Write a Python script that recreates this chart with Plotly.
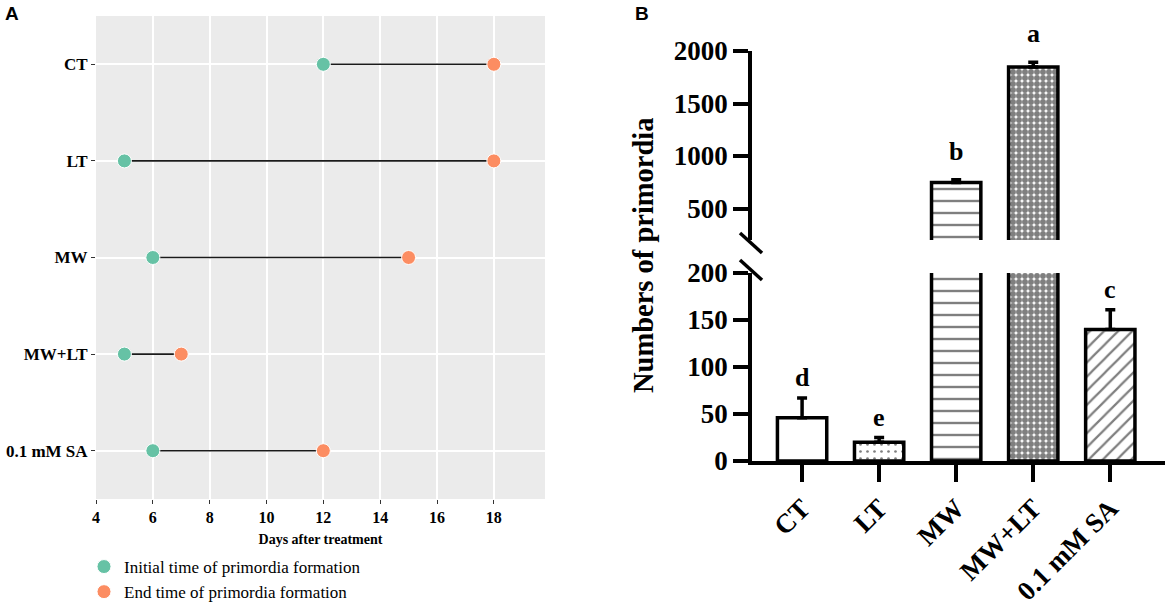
import plotly.graph_objects as go

W, H = 1170, 606
def px(x): return x / W
def py(y): return 1 - y / H

# ---------- Panel A data ----------
treatments_a = ["CT", "LT", "MW", "MW+LT", "0.1 mM SA"]
start_day = [12, 5, 6, 5, 6]
end_day = [18, 18, 15, 7, 12]

# ---------- Panel B data ----------
treatments_b = ["CT", "LT", "MW", "MW+LT", "0.1 mM SA"]
primordia = [46, 20, 748, 1848, 140]
primordia_err = [21, 5, 25, 45, 21]
sig_letters = ["d", "e", "b", "a", "c"]
pattern_shapes = ["", ".", "-", ".", "/"]
pattern_sizes = [8, 7, 12, 6, 10]
pattern_solid = [0.2, 0.12, 0.2, 0.75, 0.22]

GREEN = "#66C2A5"
ORANGE = "#FC8D62"
SERIF = "Liberation Serif, Times New Roman, serif"

fig = go.Figure()

# ---- Panel A: dumbbell ----
lx, ly = [], []
for t, s, e in zip(treatments_a, start_day, end_day):
    lx += [s, e, None]
    ly += [t, t, None]
fig.add_trace(go.Scatter(x=lx, y=ly, mode="lines", line=dict(color="#1a1a1a", width=1.6),
                         showlegend=False, hoverinfo="skip", xaxis="x", yaxis="y"))
fig.add_trace(go.Scatter(x=start_day, y=treatments_a, mode="markers",
                         marker=dict(color=GREEN, size=14, line=dict(color="white", width=1)),
                         name="Initial time of primordia formation", xaxis="x", yaxis="y"))
fig.add_trace(go.Scatter(x=end_day, y=treatments_a, mode="markers",
                         marker=dict(color=ORANGE, size=14, line=dict(color="white", width=1)),
                         name="End time of primordia formation", xaxis="x", yaxis="y"))

# ---- Panel B: broken-axis bar chart ----
bar_common = dict(
    x=treatments_b, y=primordia, width=0.64, showlegend=False,
    marker=dict(color="white", line=dict(color="black", width=3.5),
                pattern=dict(shape=pattern_shapes, size=pattern_sizes, solidity=pattern_solid,
                             fgcolor="black", fillmode="overlay")),
    error_y=dict(type="data", symmetric=False, array=primordia_err,
                 arrayminus=[0] * len(primordia), color="black", thickness=3.5, width=5),
)
fig.add_trace(go.Bar(**bar_common, xaxis="x2", yaxis="y2"))
fig.add_trace(go.Bar(**bar_common, xaxis="x2", yaxis="y3"))

# significance letters
LOW_MAX = 200
for t, v, e, l in zip(treatments_b, primordia, primordia_err, sig_letters):
    upper = v + e >= LOW_MAX
    fig.add_annotation(x=t, y=v + e, text=f"<b>{l}</b>", showarrow=False,
                       xref="x2", yref="y3" if upper else "y2",
                       yanchor="bottom", yshift=12 if upper else 4,
                       font=dict(family=SERIF, size=26, color="black"))

tickfont_a_y = dict(family=SERIF, size=17, color="black", weight="bold")
tickfont_a_x = dict(family=SERIF, size=16, color="black", weight="bold")
tickfont_b = dict(family=SERIF, size=27, color="black", weight="bold")

fig.update_layout(
    width=W, height=H,
    margin=dict(l=0, r=0, t=0, b=0, autoexpand=False),
    paper_bgcolor="white", plot_bgcolor="white",
    xaxis=dict(domain=[px(96), px(545)], range=[4, 19.8], tickvals=[4, 6, 8, 10, 12, 14, 16, 18],
               showgrid=True, gridcolor="white", gridwidth=1.5, zeroline=False,
               ticks="outside", ticklen=4, tickwidth=1, tickcolor="#333333",
               tickfont=tickfont_a_x, anchor="y",
               title=dict(text="<b>Days after treatment</b>", standoff=8,
                          font=dict(family=SERIF, size=14, color="black"))),
    yaxis=dict(domain=[py(499), py(16)], type="category", categoryorder="array",
               categoryarray=treatments_a, range=[4.5, -0.5],
               showgrid=True, gridcolor="white", gridwidth=1.5, zeroline=False,
               ticks="outside", ticklen=4, tickwidth=1, tickcolor="#333333",
               tickfont=tickfont_a_y, anchor="x"),
    xaxis2=dict(domain=[px(752), px(1165)], range=[-0.65, 4.71], type="category",
                categoryorder="array", categoryarray=treatments_b,
                showline=True, linecolor="black", linewidth=3.5, showgrid=False,
                ticks="outside", ticklen=17, tickwidth=3.5, tickcolor="black",
                tickangle=-45, tickfont=tickfont_b, anchor="y2"),
    yaxis2=dict(domain=[py(461), py(273)], range=[0, 200], tickvals=[0, 50, 100, 150, 200],
                showline=True, linecolor="black", linewidth=3.5, showgrid=False, zeroline=False,
                ticks="outside", ticklen=15, tickwidth=3.5, tickcolor="black",
                tickfont=tickfont_b, anchor="x2"),
    yaxis3=dict(domain=[py(240), py(51)], range=[200, 2000], tickvals=[500, 1000, 1500, 2000],
                showline=True, linecolor="black", linewidth=3.5, showgrid=False, zeroline=False,
                ticks="outside", ticklen=15, tickwidth=3.5, tickcolor="black",
                tickfont=tickfont_b, anchor="x2"),
    legend=dict(x=px(84), y=py(549), xanchor="left", yanchor="top",
                font=dict(family=SERIF, size=17, color="black"),
                bgcolor="rgba(0,0,0,0)", tracegroupgap=0),
    showlegend=True,
)

# grey panel background for A
fig.add_shape(type="rect", xref="x domain", yref="y domain", x0=0, x1=1, y0=0, y1=1,
              fillcolor="#EBEBEB", line=dict(width=0), layer="below")

# axis break marks
for y0 in (233, 260):
    fig.add_shape(type="line", xref="paper", yref="paper",
                  x0=px(740), x1=px(762), y0=py(y0), y1=py(y0 + 20),
                  line=dict(color="black", width=3.5))
# y-axis title for panel B
fig.add_annotation(text="<b>Numbers of primordia</b>", textangle=-90, showarrow=False,
                   xref="paper", yref="paper", x=px(643), y=py(256),
                   xanchor="center", yanchor="middle",
                   font=dict(family=SERIF, size=28.5, color="black"))
# panel labels
fig.add_annotation(text="<b>A</b>", showarrow=False, xref="paper", yref="paper",
                   x=px(12), y=py(14), xanchor="center", yanchor="middle",
                   font=dict(family="Liberation Sans, Arial", size=19, color="black"))
fig.add_annotation(text="<b>B</b>", showarrow=False, xref="paper", yref="paper",
                   x=px(642), y=py(14), xanchor="center", yanchor="middle",
                   font=dict(family="Liberation Sans, Arial", size=19, color="black"))

fig.write_html("out.html", config={"displayModeBar": False},
               post_script="document.body.style.margin='0';document.body.style.overflow='hidden';")
